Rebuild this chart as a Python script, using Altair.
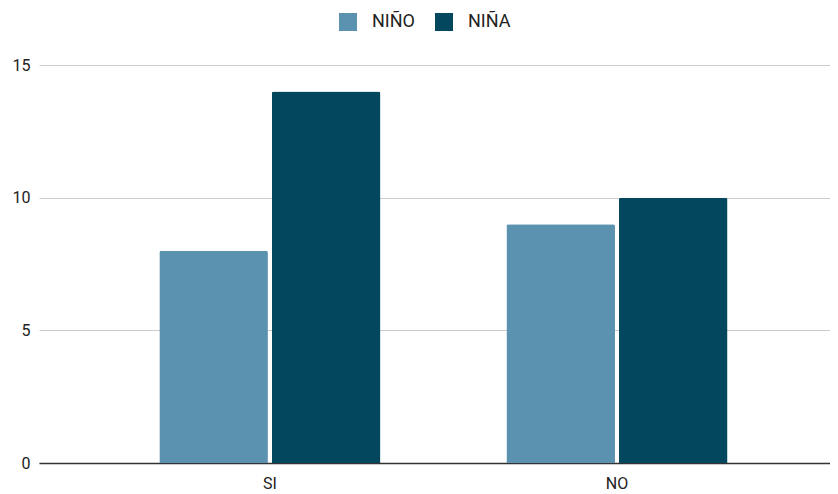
import altair as alt
import pandas as pd

categories = ["SI", "NO"]
series = ["NIÑO", "NIÑA"]
nino = [8, 9]
nina = [14, 10]

rows = []
for i, c in enumerate(categories):
    rows.append({"cat": c, "serie": "NIÑO", "valor": nino[i]})
    rows.append({"cat": c, "serie": "NIÑA", "valor": nina[i]})
df = pd.DataFrame(rows)

FONT = "Roboto"

chart = alt.Chart(df).mark_bar(cornerRadiusTopLeft=2, cornerRadiusTopRight=2).encode(
    x=alt.X("cat:N", sort=categories, title=None,
            scale=alt.Scale(paddingInner=0.363, paddingOuter=0.321, align=0.54),
            axis=alt.Axis(labelAngle=0, ticks=False, domain=True, domainColor="#333333",
                          domainWidth=1.3, labelFont=FONT, labelFontSize=16,
                          labelColor="#222222", labelPadding=12, grid=False)),
    xOffset=alt.XOffset("serie:N", sort=series, scale=alt.Scale(paddingInner=0.035)),
    y=alt.Y("valor:Q", title=None,
            scale=alt.Scale(domain=[0, 15], nice=False),
            axis=alt.Axis(values=[0, 5, 10, 15], ticks=False, domain=False,
                          gridColor="#cccccc", gridWidth=1, labelFont=FONT,
                          labelFontSize=16, labelColor="#222222", labelPadding=9)),
    color=alt.Color("serie:N", sort=series,
                    scale=alt.Scale(domain=series, range=["#5a92af", "#02475e"]),
                    legend=alt.Legend(title=None, orient="none", direction="horizontal",
                                      legendX=300, legendY=-52, symbolType="square",
                                      symbolSize=324, symbolStrokeWidth=0,
                                      labelFont=FONT, labelFontSize=18,
                                      labelColor="#222222", labelOffset=15,
                                      columnPadding=20)),
).properties(
    width=791, height=398,
    autosize=alt.AutoSizeParams(type="none"),
    padding={"left": 31, "top": 57, "right": 0, "bottom": 31},
).configure_view(stroke=None)

chart.save("out.html", embed_options={"renderer": "svg", "actions": False})
